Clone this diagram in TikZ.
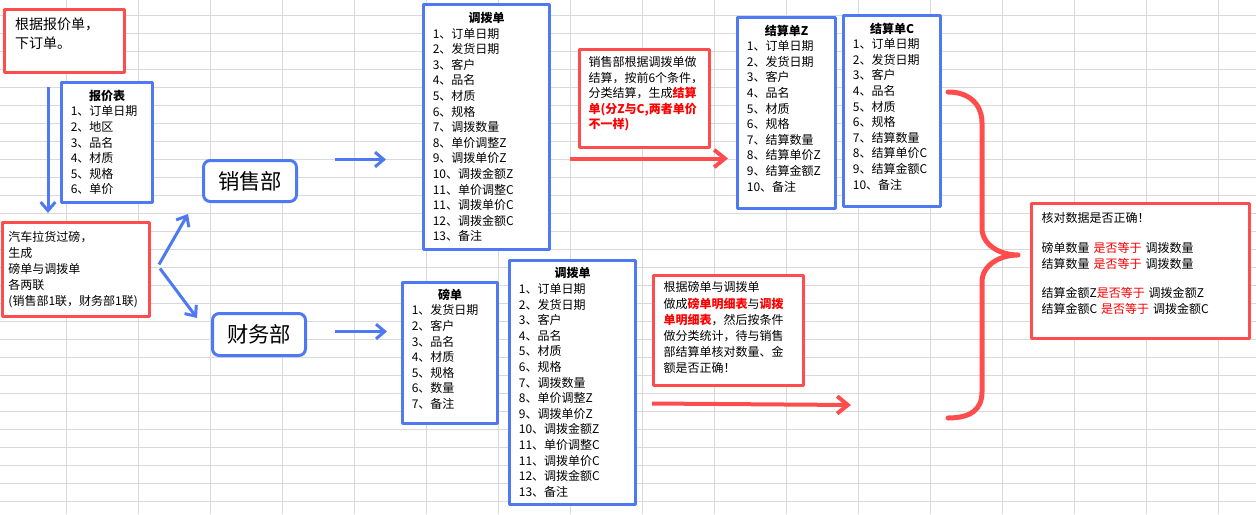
\documentclass[tikz,border=0pt]{standalone}
\usepackage{fontspec}
\setmainfont{Noto Sans CJK SC}
\usetikzlibrary{arrows.meta,calc}
\definecolor{bblue}{RGB}{79,121,242}
\definecolor{rred}{RGB}{255,77,77}
\definecolor{gridgray}{RGB}{217,217,217}

\begin{document}
\begin{tikzpicture}[x=0.75pt,y=-0.75pt,>={Straight Barb[length=6.5pt,width=11pt]},line join=round]
	\tikzstyle{grid line}=[draw=gridgray,line width=0.75pt]
	\tikzstyle{list}=[draw=bblue,line width=2.25pt,fill=white,anchor=north west,inner xsep=7pt,inner ysep=0pt,align=left,font=\fontsize{9}{11.7}\selectfont]
	\tikzstyle{note}=[draw=rred,line width=2.25pt,fill=white,anchor=north west,inner ysep=0pt,align=left,font=\fontsize{9}{12}\selectfont]
	\tikzstyle{dept}=[draw=bblue,line width=2.25pt,fill=white,rounded corners=5pt,anchor=north west,minimum width=69.75pt,font=\fontsize{16}{16}\selectfont]
	\tikzstyle{blue arrow}=[->,draw=bblue,line width=2.25pt]
	\tikzstyle{red arrow}=[-{Straight Barb[length=8pt,width=13pt]},draw=rred,line width=3pt]

	\useasboundingbox (0,0) rectangle (1256,514);
	\fill[white] (0,0) rectangle (1256,514);
	\foreach \x in {0,...,16}
		\draw[grid line] ({66.5+72*\x},0) -- ({66.5+72*\x},514);
	\foreach \y in {0,...,27}
		\draw[grid line] (0,{15.5+18*\y}) -- (1256,{15.5+18*\y});

	% orders and weighing
	\node[note,inner xsep=8pt,text width=74pt,minimum height=47.25pt,font=\fontsize{10.5}{14.25}\selectfont] (order) at (3,8)
		{根据报价单，\\下订单。\rule[-11.5pt]{0pt}{0pt}};
	\node[list,text width=54.25pt,minimum height=90pt] (quote) at (60,81)
		{{\centering\bfseries 报价表\par}1、订单日期\\2、地区\\3、品名\\4、材质\\5、规格\\6、单价};
	\node[note,inner xsep=4.5pt,text width=101.25pt,minimum height=70.5pt] (truck) at (1,221)
		{汽车拉货过磅，\\生成\\磅单与调拨单\\各两联\\(销售部1联，财务部1联)};

	\node[dept,minimum height=30.75pt] (sales) at (202,159) {销售部};
	\node[dept,minimum height=31.5pt] (fin) at (211,312) {财务部};

	% sales side
	\node[list,text width=80.5pt,minimum height=183.75pt] (db1) at (422,3)
		{{\centering\bfseries 调拨单\par}1、订单日期\\2、发货日期\\3、客户\\4、品名\\5、材质\\6、规格\\7、调拨数量\\8、单价调整Z\\9、调拨单价Z\\10、调拨金额Z\\11、单价调整C\\11、调拨单价C\\12、调拨金额C\\13、备注};
	\node[note,inner xsep=6.75pt,text width=84pt,minimum height=73.5pt,font=\fontsize{9}{11.6}\selectfont] (note1) at (578,48)
		{销售部根据调拨单做\\结算，按前6个条件，\\分类结算，生成{\color{red}\bfseries 结算}\\{\color{red}\bfseries 单(分Z与C,两者单价}\\{\color{red}\bfseries 不一样)}\rule[-8.5pt]{0pt}{0pt}};
	\node[list,text width=59.5pt,minimum height=143.25pt] (jsZ) at (736,16)
		{{\centering\bfseries 结算单Z\par}1、订单日期\\2、发货日期\\3、客户\\4、品名\\5、材质\\6、规格\\7、结算数量\\8、结算单价Z\\9、结算金额Z\\10、备注\rule[-7.5pt]{0pt}{0pt}};
	\node[list,text width=58.75pt,minimum height=143.25pt] (jsC) at (842,14)
		{{\centering\bfseries 结算单C\par}1、订单日期\\2、发货日期\\3、客户\\4、品名\\5、材质\\6、规格\\7、结算数量\\8、结算单价C\\9、结算金额C\\10、备注\rule[-7.5pt]{0pt}{0pt}};

	% finance side
	\node[list,text width=57.25pt,minimum height=105.75pt] (bang) at (401,281)
		{{\centering\bfseries 磅单\par}1、发货日期\\2、客户\\3、品名\\4、材质\\5、规格\\6、数量\\7、备注\rule[-6.5pt]{0pt}{0pt}};
	\node[list,text width=80.5pt,minimum height=183pt] (db2) at (508,259)
		{{\centering\bfseries 调拨单\par}1、订单日期\\2、发货日期\\3、客户\\4、品名\\5、材质\\6、规格\\7、调拨数量\\8、单价调整Z\\9、调拨单价Z\\10、调拨金额Z\\11、单价调整C\\11、调拨单价C\\12、调拨金额C\\13、备注};
	\node[note,inner xsep=7.5pt,text width=97.5pt,minimum height=82.5pt,font=\fontsize{9}{12.1}\selectfont] (note2) at (652,274)
		{根据磅单与调拨单\\做成{\color{red}\bfseries 磅单明细表}与{\color{red}\bfseries 调拨}\\{\color{red}\bfseries 单明细表}，然后按条件\\做分类统计，待与销售\\部结算单核对数量、金\\额是否正确！\rule[-5pt]{0pt}{0pt}};

	% check
	\node[note,inner xsep=7.5pt,text width=148.5pt,minimum height=101.25pt] (check) at (1030,202)
		{核对数据是否正确！\\[10pt]磅单数量 {\color{red}是否等于} 调拨数量\\结算数量 {\color{red}是否等于} 调拨数量\\[10pt]结算金额Z{\color{red}是否等于} 调拨金额Z\\结算金额C {\color{red}是否等于} 调拨金额C\rule[-12pt]{0pt}{0pt}};
	\draw[draw=rred,line width=3.75pt,line cap=round] (948,92) .. controls (970,92) and (982,105) .. (982,123) -- (982,228)
		.. controls (982,245) and (1000,255) .. (1018,255) .. controls (1000,255) and (982,265) .. (982,282) -- (982,392)
		.. controls (982,410) and (970,418) .. (948,418);

	\draw[blue arrow] ($(order.south west)+(45,13)$) -- ($(truck.north west)+(47,-8)$);
	\draw[blue arrow] ($(truck.east)+(8,-5)$) -- ($(sales.south west)+(-14,11)$);
	\draw[blue arrow] ($(truck.east)+(9,-1)$) -- ($(fin.north west)+(-14,6)$);
	\draw[blue arrow] ($(sales.east)+(37,-21.5)$) -- ($(db1.west)+(-36,32.5)$);
	\draw[blue arrow] ($(fin.east)+(28,-3)$) -- ($(bang.west)+(-14,-21.5)$);
	\draw[red arrow] ($(db1.east)+(19,31.5)$) -- ($(jsZ.west)+(-8,45.5)$);
	\draw[red arrow] ($(db2.east)+(15,21)$) -- ($(note2.south east)+(46,18)$);
\end{tikzpicture}
\end{document}
